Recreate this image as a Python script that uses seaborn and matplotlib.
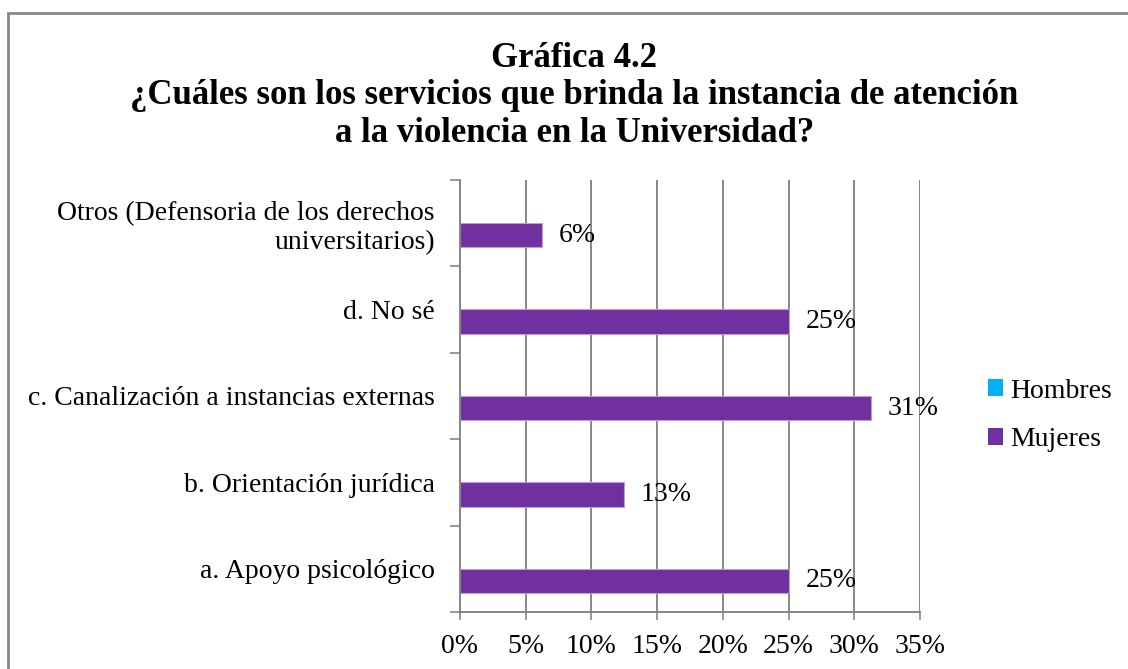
import numpy as np
import pandas as pd
import matplotlib.pyplot as plt
import seaborn as sns
from matplotlib.patches import Rectangle
from matplotlib.ticker import PercentFormatter, FixedLocator

categorias = [
    "Otros (Defensoria de los derechos\nuniversitarios)",
    "d. No sé",
    "c. Canalización a instancias externas",
    "b. Orientación jurídica",
    "a. Apoyo psicológico",
]
hombres = [0, 0, 0, 0, 0]
mujeres = [6.25, 25, 31.25, 12.5, 25]
series = ["Hombres", "Mujeres"]
colores = ["#00B0F0", "#7030A0"]

df = pd.DataFrame({
    "categoria": categorias * 2,
    "serie": ["Hombres"] * len(categorias) + ["Mujeres"] * len(categorias),
    "valor": hombres + mujeres,
})

sns.set_style("white")
plt.rcParams["font.family"] = ["Liberation Serif", "DejaVu Serif"]
plt.rcParams["text.color"] = "black"
plt.rcParams["xtick.labelcolor"] = "black"
plt.rcParams["ytick.labelcolor"] = "black"

fig = plt.figure(figsize=(11.28, 6.69), dpi=100)
ax = fig.add_axes([0.4078, 0.0852, 0.408, 0.646])

sns.barplot(
    data=df, y="categoria", x="valor", hue="serie",
    order=categorias, hue_order=series, palette=colores,
    orient="h", width=0.56, ax=ax, saturation=1, legend=False,
)

for patch in ax.patches:
    patch.set_edgecolor("#b9a0cc")
    patch.set_linewidth(0.8)

# data labels only for Mujeres (rounded half up like Excel)
cont = ax.containers[1]
ax.bar_label(cont, labels=[f"{int(v + 0.5)}%" for v in mujeres], padding=12,
             fontsize=20, color="black")

ax.set_xlim(0, 35)
ax.set_ylim(len(categorias) - 0.5, -0.5)
ax.xaxis.set_major_locator(FixedLocator(np.arange(0, 36, 5)))
ax.xaxis.set_major_formatter(PercentFormatter(decimals=0))
ax.grid(axis="x", color="#868686", linewidth=1.4)
ax.set_axisbelow(True)

# y ticks at category boundaries, labels at centres
ax.set_yticks(np.arange(-0.5, len(categorias), 1))
ax.set_yticklabels([])
ax.set_yticks(np.arange(len(categorias)), minor=True)
ax.set_yticklabels(categorias, minor=True, fontsize=20, ha="right")
ax.tick_params(axis="y", which="minor", length=0, pad=18, labelcolor="black")
ax.tick_params(axis="y", which="major", length=7, width=1.2, color="#868686",
               direction="out", left=True)
ax.tick_params(axis="x", length=6, width=1.2, color="#868686",
               direction="out", bottom=True, labelsize=20, pad=10,
               labelcolor="black")

for s in ["top", "right"]:
    ax.spines[s].set_visible(False)
for s in ["left", "bottom"]:
    ax.spines[s].set_color("#868686")
    ax.spines[s].set_linewidth(1.4)

ax.set_xlabel("")
ax.set_ylabel("")

handles = [Rectangle((0, 0), 1, 1, facecolor=c, edgecolor="none") for c in colores]
fig.legend(handles, series, loc="center left", bbox_to_anchor=(0.876, 0.379),
           frameon=False, fontsize=20, handlelength=0.55, handleheight=0.55,
           handletextpad=0.25, labelspacing=0.85, borderpad=0, borderaxespad=0,
           labelcolor="black")

titulo = [
    "Gráfica 4.2",
    "¿Cuáles son los servicios que brinda la instancia de atención",
    "a la violencia en la Universidad?",
]
for y, linea in zip([0.8999, 0.8445, 0.7877], titulo):
    fig.text(0.509, y, linea, ha="center", va="baseline",
             fontsize=25, fontweight="bold", color="black")

fig.patches.append(Rectangle((8 / 1128, -0.05), 1.2, 1 - 13 / 669 + 0.05,
                             transform=fig.transFigure, fill=False,
                             edgecolor="#868686", linewidth=2))

plt.savefig("out.png", dpi=100)
